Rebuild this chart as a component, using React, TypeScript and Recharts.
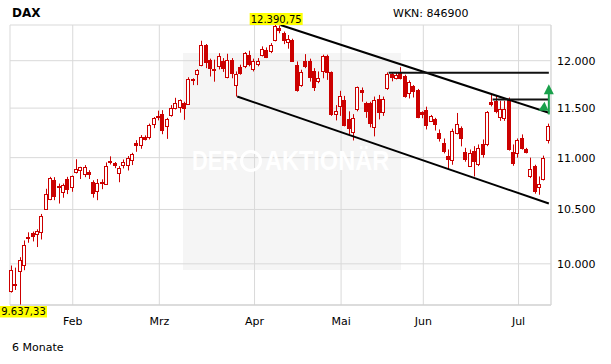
import React from "react";
import {
  ComposedChart,
  Bar,
  XAxis,
  YAxis,
  CartesianGrid,
  ReferenceLine,
  ReferenceDot,
} from "recharts";

const FONT = "'DejaVu Sans', Verdana, sans-serif";
const RED = "#cc0000";
const GREEN = "#19a04b";
const GRID = "#d9d9d9";

// Trading days, 13.01. - 10.07.
const dates = [
  "13.01.", "14.01.", "15.01.", "16.01.", "19.01.", "20.01.", "21.01.", "22.01.", "23.01.", "26.01.", "27.01.", "28.01.", "29.01.", "30.01.",
  "02.02.", "03.02.", "04.02.", "05.02.", "06.02.", "09.02.", "10.02.", "11.02.", "12.02.", "13.02.", "16.02.", "17.02.", "18.02.", "19.02.", "20.02.", "23.02.", "24.02.", "25.02.", "26.02.", "27.02.",
  "02.03.", "03.03.", "04.03.", "05.03.", "06.03.", "09.03.", "10.03.", "11.03.", "12.03.", "13.03.", "16.03.", "17.03.", "18.03.", "19.03.", "20.03.", "23.03.", "24.03.", "25.03.", "26.03.", "27.03.", "30.03.", "31.03.",
  "01.04.", "02.04.", "07.04.", "08.04.", "09.04.", "10.04.", "13.04.", "14.04.", "15.04.", "16.04.", "17.04.", "20.04.", "21.04.", "22.04.", "23.04.", "24.04.", "27.04.", "28.04.", "29.04.", "30.04.",
  "04.05.", "05.05.", "06.05.", "07.05.", "08.05.", "11.05.", "12.05.", "13.05.", "14.05.", "15.05.", "18.05.", "19.05.", "20.05.", "21.05.", "22.05.", "26.05.", "27.05.", "28.05.", "29.05.",
  "01.06.", "02.06.", "03.06.", "04.06.", "05.06.", "08.06.", "09.06.", "10.06.", "11.06.", "12.06.", "15.06.", "16.06.", "17.06.", "18.06.", "19.06.", "22.06.", "23.06.", "24.06.", "25.06.", "26.06.", "29.06.", "30.06.",
  "01.07.", "02.07.", "03.07.", "06.07.", "07.07.", "08.07.", "09.07.", "10.07.",
];

const opens = [
  9757, 9820, 9935, 9992, 10245, 10282, 10270, 10294, 10500, 10595, 10777, 10727, 10664, 10796,
  10718, 10860, 10880, 10838, 10864, 10767, 10671, 10752, 10744, 10965, 10946, 10845, 10924, 10924, 10975, 11141, 11124, 11204, 11201, 11341,
  11418, 11435, 11316, 11432, 11500, 11507, 11552, 11538, 11805, 11853, 11958, 12166, 12011, 11906, 11940, 12000, 11831, 12003, 11740, 11928, 11940, 12057,
  11906, 11963, 12065, 12119, 12100, 12228, 12362, 12299, 12200, 12228, 11957, 11740, 12000, 11992, 11893, 11785, 11885, 12046, 11877, 11438,
  11520, 11583, 11390, 11260, 11486, 11690, 11548, 11548, 11308, 11599, 11457, 11708, 11858, 11818, 11882, 11835, 11653, 11727, 11690,
  11457, 11476, 11369, 11384, 11250, 11141, 11020, 10978, 11242, 11292, 11052, 10920, 11065, 10935, 11131, 11131, 11565, 11576, 11410, 11394, 11599, 11052,
  11042, 11197, 11085, 10816, 10918, 10710, 10787, 11172,
];

const highs = [
  9985, 9966, 10060, 10212, 10287, 10294, 10315, 10458, 10697, 10812, 10809, 10747, 10747, 10812,
  10825, 10984, 10910, 10927, 10877, 10779, 10791, 10788, 10953, 11013, 10957, 10917, 10982, 11016, 11048, 11174, 11225, 11222, 11341, 11408,
  11474, 11479, 11400, 11531, 11607, 11590, 11566, 11823, 11812, 11908, 12217, 12181, 12022, 12011, 12081, 12028, 12075, 12028, 11885, 11957, 12093, 12108,
  12022, 12028, 12155, 12144, 12191, 12390.75, 12385, 12318, 12280, 12239, 11992, 11903, 12071, 12022, 11920, 11885, 12065, 12065, 11885, 11531,
  11680, 11627, 11467, 11438, 11725, 11715, 11566, 11566, 11620, 11637, 11620, 11875, 11867, 11870, 11931, 11850, 11790, 11740, 11700,
  11467, 11515, 11430, 11400, 11282, 11191, 11081, 11290, 11450, 11313, 11097, 11081, 11114, 11131, 11181, 11470, 11637, 11626, 11576, 11576, 11610, 11131,
  11191, 11232, 11097, 11000, 10930, 10816, 11020, 11341,
];

const lows = [
  9745, 9768, 9637.33, 9943, 10191, 10203, 10152, 10221, 10495, 10588, 10588, 10556, 10611, 10646,
  10668, 10845, 10791, 10809, 10791, 10612, 10588, 10693, 10744, 10933, 10897, 10760, 10894, 10874, 10927, 11058, 11088, 11171, 11181, 11295,
  11374, 11234, 11187, 11412, 11486, 11453, 11380, 11538, 11740, 11740, 11940, 11920, 11831, 11776, 11906, 11880, 11812, 11812, 11620, 11850, 11920, 11940,
  11885, 11940, 12046, 12028, 12082, 12210, 12299, 12180, 12130, 11992, 11671, 11722, 11920, 11777, 11678, 11760, 11812, 11795, 11420, 11374,
  11420, 11313, 11228, 11171, 11467, 11566, 11400, 11303, 11212, 11384, 11420, 11690, 11780, 11800, 11800, 11608, 11600, 11610, 11396,
  11396, 11282, 11369, 11271, 11160, 11042, 10884, 10930, 11232, 11112, 10960, 10910, 10816, 10917, 11000, 11114, 11518, 11447, 11369, 11369, 11070, 10920,
  11000, 11080, 11042, 10800, 10650, 10640, 10777, 11141,
];

const closes = [
  9949, 9815, 10032, 10170, 10236, 10252, 10300, 10437, 10645, 10798, 10628, 10712, 10735, 10694,
  10825, 10887, 10905, 10904, 10841, 10661, 10750, 10766, 10917, 10960, 10924, 10894, 10957, 11001, 11041, 11128, 11201, 11190, 11327, 11403,
  11405, 11280, 11390, 11500, 11552, 11583, 11500, 11805, 11797, 11905, 12173, 11990, 11922, 11897, 12046, 11920, 12011, 11866, 11853, 11866, 12082, 11963,
  12000, 11995, 12130, 12039, 12173, 12375, 12337, 12228, 12231, 12000, 11688, 11880, 11940, 11831, 11722, 11818, 12046, 11877, 11438, 11467,
  11626, 11330, 11300, 11394, 11715, 11672, 11474, 11350, 11580, 11457, 11599, 11860, 11825, 11850, 11815, 11625, 11776, 11680, 11413,
  11436, 11327, 11420, 11340, 11197, 11064, 10985, 11265, 11333, 11196, 10984, 11044, 10967, 11097, 11040, 11460, 11542, 11471, 11486, 11496, 11084, 10944,
  11180, 11099, 11058, 10890, 10676, 10747, 10996, 11316,
];

const yTicks = [10000, 10500, 11000, 11500, 12000];
const monthTicks = ["02.02.", "02.03.", "01.04.", "04.05.", "01.06.", "01.07."];
const monthNames: Record<string, string> = {
  "02": "Feb", "03": "Mrz", "04": "Apr", "05": "Mai", "06": "Jun", "07": "Jul",
};

const HIGH = 12390.75;
const LOW = 9637.33;
const highDate = "10.04.";
const lowDate = "15.01.";

// drawn lines: [date, value] pairs
const channelTop = [["13.04.", 12390], ["10.07.", 11452]] as const;
const channelBottom = [["26.03.", 11620], ["10.07.", 10556]] as const;
const resistUpper = [["19.05.", 11871], ["10.07.", 11871]] as const;
const resistLower = [["23.06.", 11590], ["10.07.", 11590]] as const;
const arrowLine = [["10.07.", 11435], ["10.07.", 11680]] as const;
const arrowHead = ["10.07.", 11750] as const;
const signal = ["09.07.", 11565] as const;

const data = dates.map((d, i) => ({
  date: d,
  range: [lows[i], highs[i]],
  open: opens[i],
  high: highs[i],
  low: lows[i],
  close: closes[i],
}));

const thousands = (s: string) => s.replace(/\B(?=(\d{3})+(?!\d))/g, ".");
const fmtTick = (v: number) => thousands(String(Math.round(v)));
const fmtPrice = (v: number) => {
  const [a, b] = v.toFixed(2).split(".");
  return `${thousands(a)},${b}`;
};

function Candle(props: any) {
  const { x, y, width, height, payload } = props;
  if (!payload || !height) return null;
  const { open, close, high, low } = payload;
  const lh = Math.log(high);
  const span = lh - Math.log(low);
  const py = (v: number) => y + ((lh - Math.log(v)) / span) * height;
  const cx = Math.round(x + width / 2) - 0.5;
  const top = Math.round(py(Math.max(open, close)));
  const bot = Math.round(py(Math.min(open, close)));
  const up = close >= open;
  return (
    <g>
      <line x1={cx} x2={cx} y1={py(high)} y2={py(low)} stroke={RED} strokeWidth={1} />
      {up ? (
        <rect
          x={cx - 2}
          y={top + 0.5}
          width={3}
          height={Math.max(1, bot - top)}
          fill="#fff"
          stroke={RED}
          strokeWidth={1}
        />
      ) : (
        <rect x={cx - 2.5} y={top} width={4} height={Math.max(1, bot - top + 1)} fill={RED} />
      )}
    </g>
  );
}

const tagText = { fontFamily: FONT, fontSize: 10, fill: "#000" };

function HighTag({ cx, cy }: any) {
  const w = 53;
  return (
    <g>
      <rect x={cx - w / 2} y={cy - 12} width={w} height={12} fill="#ffff00" />
      <text x={cx} y={cy - 2.5} textAnchor="middle" style={tagText}>
        {fmtPrice(HIGH)}
      </text>
    </g>
  );
}

function LowTag({ cx, cy }: any) {
  const w = 47;
  const left = Math.max(0, cx - w / 2);
  return (
    <g>
      <rect x={left} y={cy + 1} width={w} height={11.5} fill="#ffff00" />
      <text x={left + w / 2} y={cy + 10} textAnchor="middle" style={tagText}>
        {fmtPrice(LOW)}
      </text>
    </g>
  );
}

function UpHead({ cx, cy }: any) {
  return <polygon points={`${cx},${cy} ${cx - 5},${cy + 10} ${cx + 5},${cy + 10}`} fill={GREEN} />;
}

function SignalTri({ cx, cy }: any) {
  return <polygon points={`${cx},${cy} ${cx - 6},${cy + 9} ${cx + 4},${cy + 9}`} fill={GREEN} />;
}

const seg = (p: readonly (readonly [string, number])[]) => p.map(([x, y]) => ({ x, y }));

export default function App() {
  return (
    <div
      style={{
        position: "absolute",
        left: 0,
        top: 0,
        width: 611,
        height: 364,
        background: "#fff",
        fontFamily: FONT,
        overflow: "hidden",
      }}
    >
      {/* watermark panel */}
      <div
        style={{ position: "absolute", left: 183, top: 53, width: 218, height: 217, background: "#f5f5f5" }}
      />

      <div style={{ position: "absolute", left: 0, top: 0 }}>
        <ComposedChart
          width={611}
          height={364}
          data={data}
          margin={{ top: 25, right: 0, bottom: 29, left: 10 }}
        >
          <CartesianGrid stroke={GRID} />
          <XAxis
            dataKey="date"
            ticks={monthTicks}
            interval={0}
            tickFormatter={(d: string) => monthNames[d.slice(3, 5)] ?? ""}
            height={30}
            tickLine={false}
            tickSize={6}
            tickMargin={6}
            axisLine={{ stroke: "#cccccc" }}
            tick={{ fill: "#000", fontSize: 11, fontFamily: FONT }}
          />
          <XAxis
            xAxisId="top"
            dataKey="date"
            orientation="top"
            height={0}
            tick={false}
            tickLine={false}
            axisLine={{ stroke: GRID }}
          />
          <YAxis
            yAxisId="left"
            orientation="left"
            width={0}
            tick={false}
            tickLine={false}
            axisLine={{ stroke: GRID }}
          />
          <YAxis
            orientation="right"
            scale="log"
            domain={[LOW, HIGH]}
            allowDataOverflow
            ticks={yTicks}
            width={60}
            tickLine={false}
            tickSize={6}
            tickMargin={0}
            axisLine={{ stroke: GRID }}
            tickFormatter={fmtTick}
            tick={{ fill: "#000", fontSize: 11, fontFamily: FONT }}
          />

          <Bar dataKey="range" shape={(p: any) => <Candle {...p} />} isAnimationActive={false} />

          <ReferenceLine segment={seg(channelTop)} stroke="#000" strokeWidth={2} ifOverflow="visible" />
          <ReferenceLine segment={seg(channelBottom)} stroke="#000" strokeWidth={2} ifOverflow="visible" />
          <ReferenceLine segment={seg(resistUpper)} stroke="#111" strokeWidth={2} ifOverflow="visible" />
          <ReferenceLine segment={seg(resistLower)} stroke="#111" strokeWidth={2} ifOverflow="visible" />
          <ReferenceLine segment={seg(arrowLine)} stroke={GREEN} strokeWidth={2} ifOverflow="visible" />
          <ReferenceDot x={arrowHead[0]} y={arrowHead[1]} r={0} ifOverflow="visible" shape={(p: any) => <UpHead {...p} />} />
          <ReferenceDot x={signal[0]} y={signal[1]} r={0} ifOverflow="visible" shape={(p: any) => <SignalTri {...p} />} />

          <ReferenceDot x={highDate} y={HIGH} r={0} ifOverflow="visible" shape={(p: any) => <HighTag {...p} />} />
          <ReferenceDot x={lowDate} y={LOW} r={0} ifOverflow="visible" shape={(p: any) => <LowTag {...p} />} />
        </ComposedChart>
      </div>

      {/* watermark text */}
      <div
        style={{
          position: "absolute",
          top: 146,
          left: 0,
          width: 611,
          height: 30,
          color: "#ffffff",
          fontFamily: "'Liberation Sans', Arial, sans-serif",
          fontWeight: 700,
          fontSize: 28,
          lineHeight: "30px",
          pointerEvents: "none",
        }}
      >
        <span style={{ position: "absolute", left: 192, transform: "scaleX(0.78)", transformOrigin: "left" }}>DER</span>
        <span
          style={{
            position: "absolute",
            left: 240,
            top: 4,
            width: 16,
            height: 16,
            border: "3px solid #fff",
            borderRadius: "50%",
          }}
        />
        <span style={{ position: "absolute", left: 265, transform: "scaleX(0.84)", transformOrigin: "left" }}>AKTIONÄR</span>
      </div>

      <div style={{ position: "absolute", left: 12, top: 7, fontSize: 12, lineHeight: "12px", fontWeight: 700, color: "#000" }}>
        DAX
      </div>
      <div style={{ position: "absolute", left: 393, top: 8, fontSize: 11, lineHeight: "11px", color: "#000" }}>
        WKN: 846900
      </div>
      <div style={{ position: "absolute", left: 12, top: 342, fontSize: 11, lineHeight: "11px", color: "#000" }}>
        6 Monate
      </div>
    </div>
  );
}
